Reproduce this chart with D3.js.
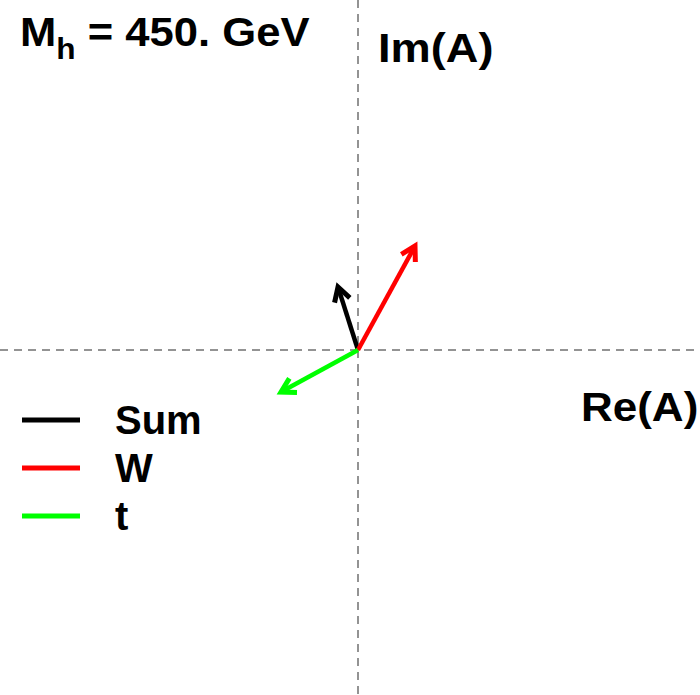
<!DOCTYPE html>
<html>
<head>
<meta charset="utf-8">
<script src="https://cdn.jsdelivr.net/npm/d3@7"></script>
<style>
  html, body { margin: 0; padding: 0; background: #fff; }
  svg text { font-family: "Liberation Sans", Arial, sans-serif; font-weight: bold; fill: #000; }
</style>
</head>
<body>
<svg id="chart" width="700" height="695"></svg>
<script>
// Amplitude contributions in the complex plane (Re, Im)
const series = ["Sum", "W", "t"];
const colors = ["#000000", "#ff0000", "#00ff00"];
const reValues = [-0.20, 0.57, -0.77];
const imValues = [0.63, 1.04, -0.42];
const title = "450. GeV";

const W = 700, H = 695;
const svg = d3.select("#chart");

const x = d3.scaleLinear().domain([-3.58, 3.42]).range([0, W]);
const y = d3.scaleLinear().domain([-3.45, 3.50]).range([H, 0]);

// dashed axes through the origin
svg.append("line")
  .attr("x1", 0).attr("x2", W)
  .attr("y1", y(0)).attr("y2", y(0))
  .attr("stroke", "#707070").attr("stroke-width", 1.5)
  .attr("stroke-dasharray", "8,6");
svg.append("line")
  .attr("x1", x(0)).attr("x2", x(0))
  .attr("y1", 0).attr("y2", H)
  .attr("stroke", "#707070").attr("stroke-width", 1.5)
  .attr("stroke-dasharray", "8,6");

// arrows: shaft plus chevron head
const headLen = 16, headAng = Math.PI / 6;
series.forEach((name, i) => {
  const x0 = x(0), y0 = y(0);
  const x1 = x(reValues[i]), y1 = y(imValues[i]);
  const a = Math.atan2(y1 - y0, x1 - x0);
  const g = svg.append("g");
  g.append("line")
    .attr("x1", x0).attr("y1", y0)
    .attr("x2", x1 - Math.cos(a) * 3).attr("y2", y1 - Math.sin(a) * 3)
    .attr("stroke", colors[i]).attr("stroke-width", 4.5);
  const p1 = [x1 - headLen * Math.cos(a - headAng), y1 - headLen * Math.sin(a - headAng)];
  const p2 = [x1 - headLen * Math.cos(a + headAng), y1 - headLen * Math.sin(a + headAng)];
  g.append("path")
    .attr("d", d3.line()([p1, [x1, y1], p2]))
    .attr("fill", "none")
    .attr("stroke", colors[i]).attr("stroke-width", 5)
    .attr("stroke-linejoin", "miter");
});

// wide bold text helper
function label(px, py, sx, size) {
  return svg.append("text")
    .attr("transform", `translate(${px},${py}) scale(${sx},1)`)
    .attr("font-size", size);
}

// title with subscript
const t = label(20, 46, 1.09, 40);
t.append("tspan").text("M");
t.append("tspan").attr("dy", 13).attr("font-size", 29).text("h");
t.append("tspan").attr("dy", -13).text(" = " + title);

// axis labels
label(378, 62, 1.13, 40).text("Im(A)");
label(581, 421, 1.10, 40).text("Re(A)");

// legend
const legendY = [420, 468, 516];
series.forEach((name, i) => {
  svg.append("line")
    .attr("x1", 22).attr("x2", 80)
    .attr("y1", legendY[i]).attr("y2", legendY[i])
    .attr("stroke", colors[i]).attr("stroke-width", 5);
  label(115, legendY[i] + 14, 1.0, 40).text(name);
});
</script>
</body>
</html>
